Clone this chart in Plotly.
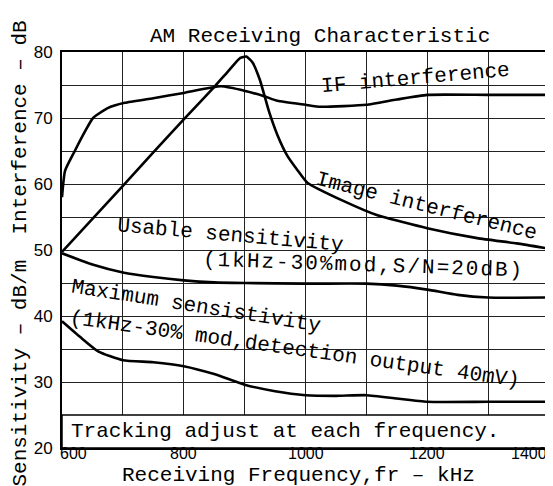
import plotly.graph_objects as go

# Receiving frequency (kHz) vs level (dB)
if_freq = [600, 605, 621, 638, 651, 675, 703, 750, 800, 861, 901, 932, 954, 1000, 1025, 1063, 1100, 1150, 1200, 1300, 1400]
if_db = [58.0, 62.0, 65.0, 68.0, 70.0, 71.5, 72.3, 73.0, 73.8, 74.8, 74.1, 73.3, 72.6, 72.0, 71.7, 71.8, 72.0, 72.8, 73.5, 73.5, 73.5]

image_freq = [600, 650, 700, 750, 800, 851, 875, 893, 903, 913, 925, 940, 954, 970, 986, 1003, 1063, 1117, 1200, 1282, 1347, 1400]
image_db = [49.7, 54.7, 59.7, 64.8, 69.8, 74.8, 77.3, 79.1, 79.3, 78.4, 75.8, 71.0, 67.4, 64.3, 62.2, 60.2, 57.4, 55.3, 53.3, 51.8, 51.0, 50.2]

usable_freq = [600, 650, 700, 750, 800, 850, 900, 1000, 1100, 1150, 1200, 1250, 1300, 1400]
usable_db = [49.5, 47.8, 46.6, 45.9, 45.4, 45.1, 45.0, 44.9, 44.9, 44.6, 44.0, 43.2, 42.8, 42.8]

max_freq = [600, 630, 660, 700, 750, 800, 850, 900, 950, 1000, 1050, 1100, 1150, 1200, 1300, 1400]
max_db = [39.2, 36.8, 34.6, 33.3, 33.0, 32.4, 31.2, 29.6, 28.6, 28.0, 27.9, 28.0, 27.5, 27.0, 27.0, 27.0]

x_grid = [600, 700, 800, 900, 1000, 1100, 1200, 1300, 1400]
x_labels = ["600", "", "800", "", "1000", "", "1200", "", "1400"]
y_grid = [20, 25, 30, 35, 40, 45, 50, 55, 60, 65, 70, 75, 80]
y_labels = ["20", "", "30", "", "40", "", "50", "", "60", "", "70", "", "80"]

MONO = "Liberation Mono, DejaVu Sans Mono, monospace"
NARROW = "Liberation Sans Narrow, Liberation Sans, Arial, sans-serif"

fig = go.Figure()
for xs, ys in [(if_freq, if_db), (image_freq, image_db), (usable_freq, usable_db), (max_freq, max_db)]:
    fig.add_trace(go.Scatter(
        x=xs, y=ys, mode="lines",
        line=dict(color="black", width=2.6, shape="spline", smoothing=0.5),
        showlegend=False, hoverinfo="skip",
    ))

# white box behind the note at the bottom
fig.add_shape(type="rect", xref="x", yref="y", x0=600, x1=1400, y0=20, y1=25,
              fillcolor="white", line=dict(color="black", width=1.5), layer="between")

labels = [
    ("IF interference", 1181, 76.0, -5),
    ("Image interference", 1199, 56.6, 14),
    ("Usable sensitivity", 876, 52.2, 5),
    ("<span style='letter-spacing:2px'>(1kHz-30%mod,S/N=20dB)</span>", 1096, 47.7, 2),
    ("Maximum sensistivity", 820, 41.4, 9),
    ("(1kHz-30% mod,detection output 40mV)", 982, 35.0, 8),
    ("Tracking adjust at each frequency.", 966, 22.5, 0),
]
for text, x, y, angle in labels:
    fig.add_annotation(x=x, y=y, xref="x", yref="y", text=text, showarrow=False,
                       textangle=angle, font=dict(family=MONO, size=21, color="black"))

# x tick labels sit close under the axis, as on the original sheet
for i, (val, lab) in enumerate(zip(x_grid, x_labels)):
    if not lab:
        continue
    anchor = "left" if i == 0 else ("right" if i == len(x_grid) - 1 else "center")
    fig.add_annotation(x=val, y=-0.014, xref="x", yref="paper", text=lab, showarrow=False,
                       xanchor=anchor, yanchor="middle", xshift=-4 if i == 0 else 0,
                       font=dict(family=NARROW, size=16, color="black"))

fig.add_annotation(x=0.529, y=1.04, xref="paper", yref="paper", text="AM Receiving Characteristic",
                   showarrow=False, yanchor="middle", font=dict(family=MONO, size=21, color="black"))
fig.add_annotation(x=-0.085, y=0.49, xref="paper", yref="paper", xanchor="center", yanchor="middle",
                   text="Sensitivity \u2013 dB/m  Interference \u2013 dB",
                   showarrow=False, textangle=-90, font=dict(family=MONO, size=21, color="black"))
fig.add_annotation(x=0.485, y=-0.07, xref="paper", yref="paper", xanchor="center", yanchor="middle",
                   text="Receiving Frequency,fr \u2013 kHz", showarrow=False,
                   font=dict(family=MONO, size=21, color="black"))

fig.update_xaxes(range=[600, 1400], tickvals=x_grid, ticktext=x_labels, showticklabels=False,
                 showgrid=True, gridcolor="#222", gridwidth=1, zeroline=False,
                 showline=True, linecolor="black", linewidth=2, mirror=True, ticks="")
fig.update_yaxes(range=[20, 80], tickvals=y_grid, ticktext=y_labels,
                 showgrid=True, gridcolor="#222", gridwidth=1, zeroline=False,
                 showline=True, linecolor="black", linewidth=2, mirror=True,
                 ticks="", ticklen=0, ticklabelstandoff=4,
                 tickfont=dict(family=NARROW, size=17, color="black"))

fig.update_layout(
    width=553, height=486,
    margin=dict(l=54, r=10, t=44, b=46),
    paper_bgcolor="white", plot_bgcolor="white",
)

fig.write_html("out.html")
